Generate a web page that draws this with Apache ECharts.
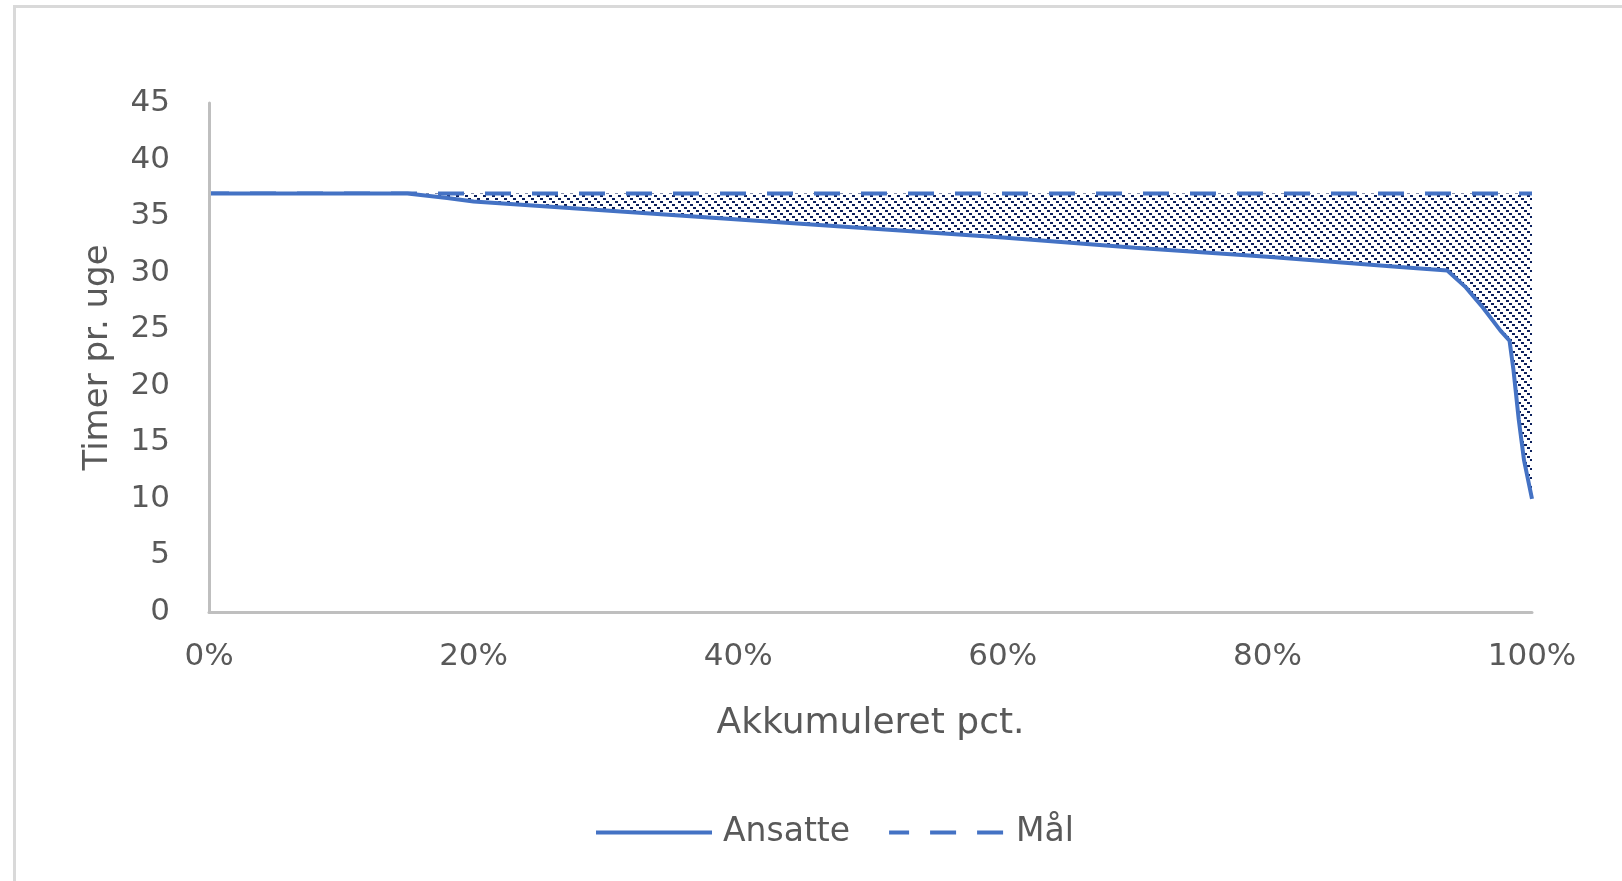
<!DOCTYPE html>
<html>
<head>
<meta charset="utf-8">
<script src="https://cdn.jsdelivr.net/npm/echarts@6/dist/echarts.min.js"></script>
<style>
  html, body { margin: 0; padding: 0; background: #fff; }
  #chart { width: 1622px; height: 881px; }
</style>
</head>
<body>
<div id="chart"></div>
<script>
// akkumuleret pct. (x) og timer pr. uge (y)
const pct = [0, 10, 15, 18, 20, 25, 30, 40, 50, 60, 70, 80, 90, 93.6, 95, 96.3, 97.6, 98.3, 98.6, 99.0, 99.4, 100];
const ansatte = [37, 37, 37, 36.6, 36.3, 35.9, 35.5, 34.7, 33.9, 33.1, 32.2, 31.4, 30.5, 30.2, 28.7, 26.9, 24.9, 24.0, 21.4, 17.0, 13.4, 10];
const maalPct = [0, 100];
const maal = [37, 37];
const seriesNames = ["Ansatte", "Mål"];

const FONT = "DejaVu Sans";
const TEXT = "#595959";
const BLUE = "#4472C4";

// skravering: diagonaler af små firkanter
function hatch() {
  const c = document.createElement("canvas");
  c.width = 9;
  c.height = 9;
  const ctx = c.getContext("2d");
  ctx.fillStyle = "#0b1f5c";
  for (let i = 0; i < 9; i += 3) {
    ctx.fillRect(i, i, 3, 2);
  }
  return c;
}

const chart = echarts.init(document.getElementById("chart"));
chart.setOption({
  animation: false,
  backgroundColor: "#fff",
  graphic: [{
    type: "rect",
    shape: { x: 14.5, y: 6.5, width: 1700, height: 1000 },
    style: { fill: "none", stroke: "#d9d9d9", lineWidth: 3 },
    silent: true
  }],
  grid: { left: 209, right: 90, top: 103, bottom: 269 },
  legend: {
    data: seriesNames,
    left: 589,
    top: 811,
    itemWidth: 116,
    itemHeight: 14,
    itemGap: 37,
    itemStyle: { opacity: 0 },
    lineStyle: { width: 4 },
    textStyle: { fontFamily: FONT, fontSize: 33, color: TEXT, padding: [0, 0, 0, 6] }
  },
  xAxis: {
    type: "value",
    min: 0,
    max: 100,
    interval: 20,
    z: 5,
    name: "Akkumuleret pct.",
    nameLocation: "middle",
    nameGap: 94,
    nameTextStyle: { fontFamily: FONT, fontSize: 36, color: TEXT },
    axisLine: { show: true, lineStyle: { color: "#bfbfbf", width: 3 } },
    axisTick: { show: false },
    splitLine: { show: false },
    axisLabel: { formatter: "{value}%", fontFamily: FONT, fontSize: 31, color: TEXT, margin: 29 }
  },
  yAxis: {
    type: "value",
    min: 0,
    max: 45,
    interval: 5,
    z: 5,
    name: "Timer pr. uge",
    nameLocation: "middle",
    nameGap: 94,
    nameTextStyle: { fontFamily: FONT, fontSize: 34, color: TEXT },
    axisLine: { show: true, lineStyle: { color: "#bfbfbf", width: 3 } },
    axisTick: { show: false },
    splitLine: { show: false },
    axisLabel: { fontFamily: FONT, fontSize: 31, color: TEXT, margin: 39 }
  },
  series: [
    {
      name: "Mål",
      type: "line",
      z: 2,
      symbol: "none",
      data: maalPct.map((x, i) => [x, maal[i]]),
      lineStyle: { color: BLUE, width: 4, type: [26, 21], dashOffset: 6 },
      itemStyle: { color: BLUE },
      areaStyle: { color: { image: hatch(), repeat: "repeat" }, opacity: 1 }
    },
    {
      name: "Ansatte",
      type: "line",
      z: 3,
      symbol: "none",
      data: pct.map((x, i) => [x, ansatte[i]]),
      lineStyle: { color: BLUE, width: 4 },
      itemStyle: { color: BLUE },
      areaStyle: { color: "#fff", opacity: 1 }
    }
  ]
});
</script>
</body>
</html>
